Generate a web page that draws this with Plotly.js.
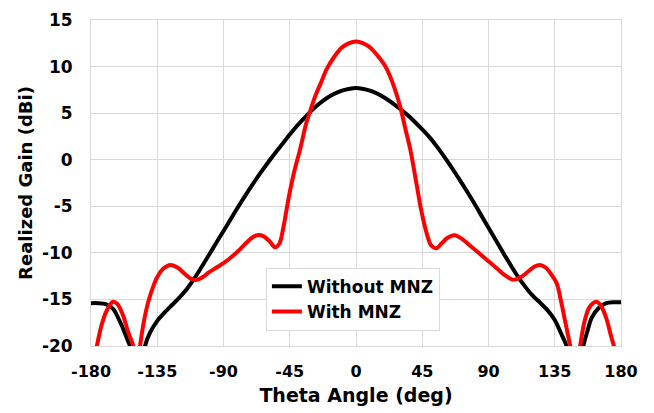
<!DOCTYPE html>
<html>
<head>
<meta charset="utf-8">
<script src="https://cdn.plot.ly/plotly-3.0.1.min.js"></script>
<style>html,body{margin:0;padding:0;background:#fff;}#chart{width:654px;height:413px;}</style>
</head>
<body>
<div id="chart"></div>
<script>
// Without MNZ
const thetaWithout = [-180,-175,-170,-165,-160,-155,-153.5,-148.4,-143.3,-140,-135,-130,-125,-120,-115,-110,-105,-100,-95,-90,-85,-80,-75,-70,-65,-60,-55,-50,-45,-40,-35,-30,-25,-20,-15,-10,-5,0,5,10,15,20,25,30,35,40,45,50,55,60,65,70,75,80,85,90,95,100,105,110,115,120,125,130,135,140,143,148.7,154.4,157,160,165,170,175,180];
const gainWithout  = [-15.4,-15.4,-15.5,-16.0,-17.5,-19.4,-20,-26,-20,-18.6,-17.3,-16.4,-15.6,-14.8,-13.9,-12.8,-11.55,-10.25,-8.95,-7.65,-6.35,-5.05,-3.8,-2.6,-1.45,-0.35,0.7,1.7,2.7,3.65,4.5,5.3,6.0,6.6,7.05,7.4,7.6,7.7,7.6,7.4,7.05,6.6,6.05,5.45,4.8,4.05,3.25,2.4,1.4,0.3,-0.85,-2.05,-3.3,-4.6,-5.95,-7.3,-8.65,-10.0,-11.3,-12.55,-13.65,-14.6,-15.35,-16.15,-17.2,-18.9,-20,-26,-20,-18.5,-17.0,-15.9,-15.4,-15.3,-15.3];
// With MNZ
const thetaWith = [-180,-176,-172,-168,-165,-162,-158,-155,-151.3,-149,-146.7,-144,-141,-137.7,-135,-131,-126,-121,-116,-112,-108,-104,-100,-95,-90,-85,-80,-75,-70,-67,-63,-59,-55,-52,-49,-46,-42,-38,-34,-31,-27,-24,-20,-15,-10,-5,0,5,10,15,20,25,30,34,37,41,44,48,51,54.8,58,62,67,72,78,84,90,96,101,107,112,117,121,125,129,133,136.4,139,142,145.5,149,152.2,155,158,161,163.5,166,170,173,176,180];
const gainWith  = [-24,-20,-17.3,-15.8,-15.25,-15.5,-16.8,-18.4,-20,-23,-20,-17.3,-15.2,-13.6,-12.6,-11.7,-11.3,-11.6,-12.3,-12.8,-12.9,-12.6,-12.1,-11.6,-11.1,-10.5,-9.8,-9.0,-8.3,-8.1,-8.2,-8.7,-9.4,-9.0,-7.0,-4.3,-1.3,1.1,3.8,5.3,7.1,8.2,9.7,11.0,12.0,12.5,12.7,12.5,12.0,11.1,10.0,8.2,5.7,3.0,1.0,-2.5,-5.2,-7.9,-9.2,-9.5,-9.0,-8.4,-8.1,-8.5,-9.3,-10.1,-10.9,-11.7,-12.4,-12.9,-12.6,-12.0,-11.5,-11.3,-11.6,-12.4,-13.3,-15.0,-17.3,-20,-23,-20,-17.5,-16.0,-15.4,-15.25,-15.6,-17.0,-18.8,-20.5,-24];
const xTicks = [-180,-135,-90,-45,0,45,90,135,180];
const yTicks = [-20,-15,-10,-5,0,5,10,15];
const seriesNames = ["Without MNZ","With MNZ"];

const FONT = "DejaVu Sans, Liberation Sans, Arial, sans-serif";
const grid = "#d9d9d9";

const traces = [
  {x: thetaWithout, y: gainWithout, name: seriesNames[0], mode: "lines",
   line: {color: "#000000", width: 4, shape: "spline", smoothing: 0.8}},
  {x: thetaWith, y: gainWith, name: seriesNames[1], mode: "lines",
   line: {color: "#ff0000", width: 4, shape: "spline", smoothing: 0.8}}
];

const layout = {
  width: 654, height: 413,
  margin: {l: 91, r: 33, t: 20, b: 67},
  paper_bgcolor: "#ffffff", plot_bgcolor: "#ffffff",
  showlegend: true,
  legend: {x: 0.33, y: 0.24, xanchor: "left", yanchor: "top",
    bgcolor: "#ffffff", bordercolor: grid, borderwidth: 1,
    font: {family: FONT, size: 17, color: "#000", weight: "bold"},
    tracegroupgap: 0},
  xaxis: {range: [-180, 180], tickvals: xTicks, ticktext: xTicks.map(String),
    showgrid: true, gridcolor: grid, gridwidth: 1,
    zeroline: true, zerolinecolor: grid, zerolinewidth: 1,
    showline: true, linecolor: grid, linewidth: 1, mirror: true,
    ticks: "", ticklabelstandoff: 11,
    tickfont: {family: FONT, size: 16, color: "#000", weight: "bold"},
    title: {text: "Theta Angle (deg)", standoff: 8,
      font: {family: FONT, size: 19, color: "#000", weight: "bold"}}},
  yaxis: {range: [-20, 15], tickvals: yTicks, ticktext: yTicks.map(String),
    showgrid: true, gridcolor: grid, gridwidth: 1,
    zeroline: true, zerolinecolor: grid, zerolinewidth: 1,
    showline: true, linecolor: grid, linewidth: 1, mirror: true,
    ticks: "", ticklabelstandoff: 14,
    tickfont: {family: FONT, size: 17, color: "#000", weight: "bold"},
    title: {text: "Realized Gain (dBi)", standoff: 4,
      font: {family: FONT, size: 18, color: "#000", weight: "bold"}}}
};

Plotly.newPlot("chart", traces, layout, {displayModeBar: false, staticPlot: true});
</script>
</body>
</html>
